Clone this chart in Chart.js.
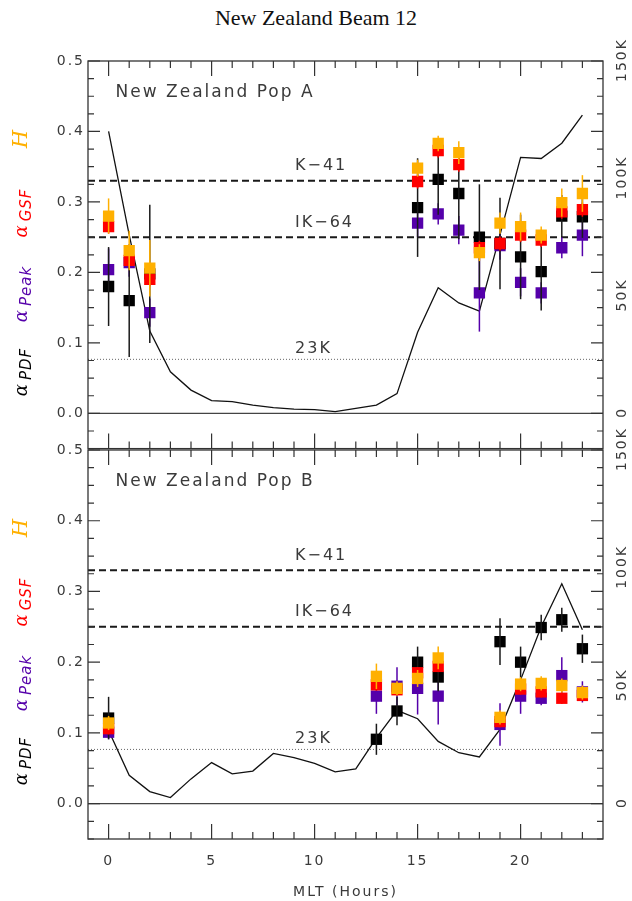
<!DOCTYPE html>
<html>
<head>
<meta charset="utf-8">
<script src="https://cdn.jsdelivr.net/npm/chart.js@4.4.1/dist/chart.umd.min.js"></script>
<style>
  body { margin: 0; background: #fff; width: 632px; height: 901px; position: relative; overflow: hidden; }
  #title { position: absolute; top: 5px; left: 0; width: 632px; text-align: center;
           font: 22px "Liberation Serif", "Times New Roman", serif; line-height: 25px; color: #111; }
  canvas { position: absolute; left: 0; }
  #popA { top: 0; }
  #popB { top: 400px; }
</style>
</head>
<body>
<div id="title">New Zealand Beam 12</div>
<canvas id="popA" width="632" height="460" style="width:632px;height:460px"></canvas>
<canvas id="popB" width="632" height="501" style="width:632px;height:501px"></canvas>
<script>
// MLT hours
const HOURS = [0, 1, 2, 3, 4, 5, 6, 7, 8, 9, 10, 11, 12, 13, 14, 15, 16, 17, 18, 19, 20, 21, 22, 23];
const X_LABELS = [0, 5, 10, 15, 20];
const Y_LABELS = [0.0, 0.1, 0.2, 0.3, 0.4, 0.5];
const COUNT_LABELS = [0, 50, 100, 150]; // thousands

// reference levels
const REF_DASHED = [0.33, 0.25];
const REF_DASHED_TEXT = ['K\u221241', 'IK\u221264'];
const REF_DOTTED_K = 23;
const REF_DOTTED_TEXT = '23K';

// Pop A  (index = hour, null = no estimate)
const lineA = [120, 76, 35, 17.7, 9.9, 5.4, 5, 3.5, 2.4, 1.8, 1.6, 0.7, 2.1, 3.5, 8.4, 34.5, 53.5, 47, 43.5, 76, 109, 108.5, 115, 127];
const pdfA     = [0.18, 0.16, 0.198, null, null, null, null, null, null, null, null, null, null, null, null, 0.292, 0.332, 0.312, 0.25, 0.241, 0.222, 0.201, 0.28, 0.279];
const pdfErrA  = [0.056, 0.08, 0.098, null, null, null, null, null, null, null, null, null, null, null, null, 0.07, 0.05, 0.065, 0.075, 0.065, 0.06, 0.055, 0.03, 0.03];
const peakA    = [0.204, 0.214, 0.143, null, null, null, null, null, null, null, null, null, null, null, null, 0.27, 0.283, 0.26, 0.171, 0.238, 0.186, 0.171, 0.235, 0.253];
const peakErrA = [0.03, 0.02, 0.02, null, null, null, null, null, null, null, null, null, null, null, null, 0.02, 0.015, 0.02, 0.055, 0.02, 0.02, 0.015, 0.015, 0.03];
const gsfA     = [0.265, 0.217, 0.19, null, null, null, null, null, null, null, null, null, null, null, null, 0.329, 0.373, 0.353, 0.235, 0.241, 0.253, 0.246, 0.286, 0.289];
const gsfErrA  = [0.01, 0.01, 0.01, null, null, null, null, null, null, null, null, null, null, null, null, 0.01, 0.01, 0.01, 0.01, 0.01, 0.01, 0.01, 0.01, 0.01];
const hA       = [0.28, 0.231, 0.206, null, null, null, null, null, null, null, null, null, null, null, null, 0.348, 0.383, 0.37, 0.228, 0.27, 0.265, 0.253, 0.299, 0.312];
const hErrA    = [0.025, 0.028, 0.04, null, null, null, null, null, null, null, null, null, null, null, null, 0.012, 0.011, 0.016, 0.012, 0.015, 0.02, 0.012, 0.02, 0.026];

// Pop B
const lineB = [31, 12, 5.1, 2.6, 10.5, 17.4, 12.6, 13.8, 21.3, 19.5, 17.1, 13.5, 14.7, 27.9, 39.6, 36, 26.4, 21.6, 19.8, 31.5, 52.5, 75, 93.3, 73.8];
const pdfB     = [0.121, null, null, null, null, null, null, null, null, null, null, null, null, 0.091, 0.131, 0.2, 0.179, null, null, 0.229, 0.2, 0.249, 0.26, 0.219];
const pdfErrB  = [0.03, null, null, null, null, null, null, null, null, null, null, null, null, 0.022, 0.02, 0.022, 0.02, null, null, 0.033, 0.022, 0.018, 0.017, 0.02];
const peakB    = [0.101, null, null, null, null, null, null, null, null, null, null, null, null, 0.152, 0.166, 0.163, 0.152, null, null, 0.112, 0.152, 0.149, 0.181, 0.158];
const peakErrB = [0.01, null, null, null, null, null, null, null, null, null, null, null, null, 0.025, 0.027, 0.037, 0.04, null, null, 0.03, 0.025, 0.01, 0.026, 0.015];
const gsfB     = [0.106, null, null, null, null, null, null, null, null, null, null, null, null, 0.168, 0.161, 0.185, 0.194, null, null, 0.116, 0.162, 0.158, 0.149, 0.153];
const gsfErrB  = [0.008, null, null, null, null, null, null, null, null, null, null, null, null, 0.008, 0.008, 0.008, 0.008, null, null, 0.008, 0.008, 0.008, 0.008, 0.008];
const hB       = [0.114, null, null, null, null, null, null, null, null, null, null, null, null, 0.18, 0.163, 0.177, 0.206, null, null, 0.122, 0.169, 0.17, 0.167, 0.157];
const hErrB    = [0.01, null, null, null, null, null, null, null, null, null, null, null, null, 0.018, 0.01, 0.012, 0.016, null, null, 0.01, 0.01, 0.01, 0.01, 0.01];

const ORANGE = '#FFB000';
const RED = '#FF0000';
const PURPLE = '#5500AA';
const INK = '#333';
const FONT = '"DejaVu Sans", sans-serif';

// y-axis title pieces: main glyph, subscript, colour, offset from plot top
const Y_TITLE = [
    { main: 'H', sub: '', color: ORANGE, dy: 77 },
    { main: '\u03b1', sub: 'GSF', color: RED, dy: 152 },
    { main: '\u03b1', sub: 'Peak', color: PURPLE, dy: 233 },
    { main: '\u03b1', sub: 'PDF', color: '#000', dy: 311 }
];

// Build {x, y, e} points from a series and its errors
function pts(vals, errs) {
    const out = [];
    vals.forEach((v, i) => {
        if (v !== null) out.push({ x: HOURS[i], y: v, e: errs[i] || 0 });
    });
    return out;
}

function drawYTitle(ctx, a) {
    Y_TITLE.forEach(t => {
        ctx.save();
        ctx.translate(22, a.top + t.dy);
        ctx.rotate(-Math.PI / 2);
        ctx.fillStyle = t.color;
        ctx.textBaseline = 'alphabetic';
        ctx.textAlign = 'left';
        if (!t.sub) {
            ctx.font = 'italic 21px "DejaVu Serif", serif';
            const w = ctx.measureText(t.main).width;
            ctx.fillText(t.main, -w / 2, 5);
        } else {
            ctx.font = 'italic 18px "DejaVu Serif", serif';
            const wm = ctx.measureText(t.main).width;
            ctx.font = 'italic 15px ' + FONT;
            ctx.letterSpacing = '1px';
            const ws = ctx.measureText(t.sub).width;
            const x0 = -(wm + 2 + ws) / 2;
            ctx.letterSpacing = '0px';
            ctx.font = 'italic 18px "DejaVu Serif", serif';
            ctx.fillText(t.main, x0, 5);
            ctx.font = 'italic 15px ' + FONT;
            ctx.letterSpacing = '1px';
            ctx.fillText(t.sub, x0 + wm + 2, 9);
        }
        ctx.restore();
    });
}

const panelPlugin = {
    id: 'panel',
    beforeDraw(chart) {
        chart.ctx.letterSpacing = '2px';
    },
    beforeDatasetsDraw(chart) {
        const { ctx, chartArea: a, scales } = chart;
        ctx.save();
        // zero line
        ctx.strokeStyle = '#444';
        ctx.lineWidth = 1.4;
        const y0 = scales.y.getPixelForValue(0);
        ctx.beginPath(); ctx.moveTo(a.left, y0); ctx.lineTo(a.right, y0); ctx.stroke();
        // dashed reference levels
        ctx.strokeStyle = '#1a1a1a';
        ctx.lineWidth = 2;
        ctx.setLineDash([7, 4]);
        REF_DASHED.forEach(v => {
            const yy = scales.y.getPixelForValue(v);
            ctx.beginPath(); ctx.moveTo(a.left, yy); ctx.lineTo(a.right, yy); ctx.stroke();
        });
        // dotted 23K level
        ctx.strokeStyle = '#666';
        ctx.lineWidth = 1;
        ctx.setLineDash([1, 2]);
        const yd = scales.y2.getPixelForValue(REF_DOTTED_K);
        ctx.beginPath(); ctx.moveTo(a.left, yd); ctx.lineTo(a.right, yd); ctx.stroke();
        ctx.restore();
    },
    afterDatasetDraw(chart, args) {
        const ds = chart.data.datasets[args.index];
        if (!ds.errColor) return;
        const { ctx, scales } = chart;
        ctx.save();
        ctx.strokeStyle = ds.errColor;
        ctx.lineWidth = 1.5;
        args.meta.data.forEach((el, j) => {
            const d = ds.data[j];
            if (!d.e) return;
            ctx.beginPath();
            ctx.moveTo(el.x, scales.y.getPixelForValue(d.y - d.e));
            ctx.lineTo(el.x, scales.y.getPixelForValue(d.y + d.e));
            ctx.stroke();
        });
        ctx.restore();
    },
    afterDraw(chart, args, opts) {
        const { ctx, chartArea: a, scales } = chart;
        const x = scales.x, y = scales.y, y2 = scales.y2;
        ctx.save();
        ctx.letterSpacing = '0px';
        // frame
        ctx.strokeStyle = INK;
        ctx.lineWidth = 1.3;
        ctx.strokeRect(a.left, a.top, a.right - a.left, a.bottom - a.top);
        // hour ticks, top and bottom
        ctx.lineWidth = 1.2;
        ctx.beginPath();
        HOURS.forEach(h => {
            const px = x.getPixelForValue(h);
            const len = h % 5 === 0 ? 15 : 7;
            ctx.moveTo(px, a.bottom); ctx.lineTo(px, a.bottom - len);
            ctx.moveTo(px, a.top); ctx.lineTo(px, a.top + len);
        });
        // value ticks, left and right
        for (let k = -2; k <= 20; k++) {
            const v = k * 0.025;
            const py = y.getPixelForValue(v);
            const len = k % 4 === 0 ? 12 : 6;
            ctx.moveTo(a.left, py); ctx.lineTo(a.left + len, py);
            ctx.moveTo(a.right, py); ctx.lineTo(a.right - len, py);
        }
        ctx.stroke();

        ctx.fillStyle = '#3a3a3a';
        ctx.letterSpacing = '2px';
        // right axis labels (counts), rotated
        ctx.font = '14px ' + FONT;
        ctx.textAlign = 'center';
        ctx.textBaseline = 'middle';
        COUNT_LABELS.forEach(v => {
            ctx.save();
            ctx.translate(a.right + 19, y2.getPixelForValue(v));
            ctx.rotate(-Math.PI / 2);
            ctx.fillText(v === 0 ? '0' : v + 'K', 1, 0);
            ctx.restore();
        });
        // annotations
        ctx.textAlign = 'left';
        ctx.font = '17px ' + FONT;
        ctx.fillText(opts.name, x.getPixelForValue(0.34), y.getPixelForValue(0.455));
        ctx.font = '16px ' + FONT;
        const tx = x.getPixelForValue(9.05);
        ctx.fillText(REF_DASHED_TEXT[0], tx, y.getPixelForValue(0.351));
        ctx.fillText(REF_DASHED_TEXT[1], tx, y.getPixelForValue(0.271));
        ctx.fillText(REF_DOTTED_TEXT, tx, y.getPixelForValue(0.092));
        ctx.restore();

        drawYTitle(ctx, a);
    }
};

function makePanel(id, p) {
    return new Chart(document.getElementById(id), {
        type: 'scatter',
        data: {
            datasets: [
                { label: 'H', data: pts(p.h, p.hErr), backgroundColor: ORANGE, errColor: ORANGE },
                { label: 'GSF', data: pts(p.gsf, p.gsfErr), backgroundColor: RED, errColor: RED },
                { label: 'PDF', data: pts(p.pdf, p.pdfErr), backgroundColor: '#000', errColor: '#1a1a1a' },
                { label: 'Peak', data: pts(p.peak, p.peakErr), backgroundColor: PURPLE, errColor: PURPLE },
                {
                    type: 'line', label: 'count', yAxisID: 'y2',
                    data: p.line.map((v, i) => ({ x: HOURS[i], y: v })),
                    borderColor: '#111', borderWidth: 1.3, pointRadius: 0, fill: false, tension: 0
                }
            ]
        },
        options: {
            responsive: false,
            animation: false,
            events: [],
            layout: { padding: { top: p.padTop, left: 0, right: 0, bottom: 0 } },
            elements: { point: { pointStyle: 'rect', radius: 8, borderWidth: 0 } },
            plugins: {
                legend: { display: false },
                tooltip: { enabled: false },
                panel: { name: p.name }
            },
            scales: {
                x: {
                    type: 'linear', min: -1, max: 24,
                    grid: { display: false, drawTicks: false },
                    border: { display: false },
                    afterBuildTicks: s => { s.ticks = X_LABELS.map(v => ({ value: v })); },
                    ticks: { display: p.showX, font: { family: FONT, size: 14 }, color: '#3a3a3a', padding: 14, maxRotation: 0 },
                    title: {
                        display: p.showX, text: 'MLT (Hours)', color: '#3a3a3a',
                        font: { family: FONT, size: 14 }, padding: { top: 0, bottom: 0 }
                    },
                    afterFit: s => { s.height = p.xHeight; }
                },
                y: {
                    position: 'left', min: -0.05, max: 0.5,
                    grid: { display: false, drawTicks: false },
                    border: { display: false },
                    afterBuildTicks: s => { s.ticks = Y_LABELS.map(v => ({ value: v })); },
                    ticks: { callback: v => v.toFixed(1), font: { family: FONT, size: 14 }, color: '#3a3a3a', padding: 3 },
                    afterFit: s => { s.width = 88; }
                },
                y2: {
                    position: 'right', min: -15, max: 150,
                    grid: { display: false, drawTicks: false },
                    border: { display: false },
                    ticks: { display: false },
                    afterFit: s => { s.width = 29; }
                }
            }
        },
        plugins: [panelPlugin]
    });
}

makePanel('popA', {
    name: 'New Zealand Pop A', padTop: 61, xHeight: 11, showX: false,
    line: lineA, pdf: pdfA, pdfErr: pdfErrA, peak: peakA, peakErr: peakErrA,
    gsf: gsfA, gsfErr: gsfErrA, h: hA, hErr: hErrA
});
makePanel('popB', {
    name: 'New Zealand Pop B', padTop: 50, xHeight: 62, showX: true,
    line: lineB, pdf: pdfB, pdfErr: pdfErrB, peak: peakB, peakErr: peakErrB,
    gsf: gsfB, gsfErr: gsfErrB, h: hB, hErr: hErrB
});
</script>
</body>
</html>
